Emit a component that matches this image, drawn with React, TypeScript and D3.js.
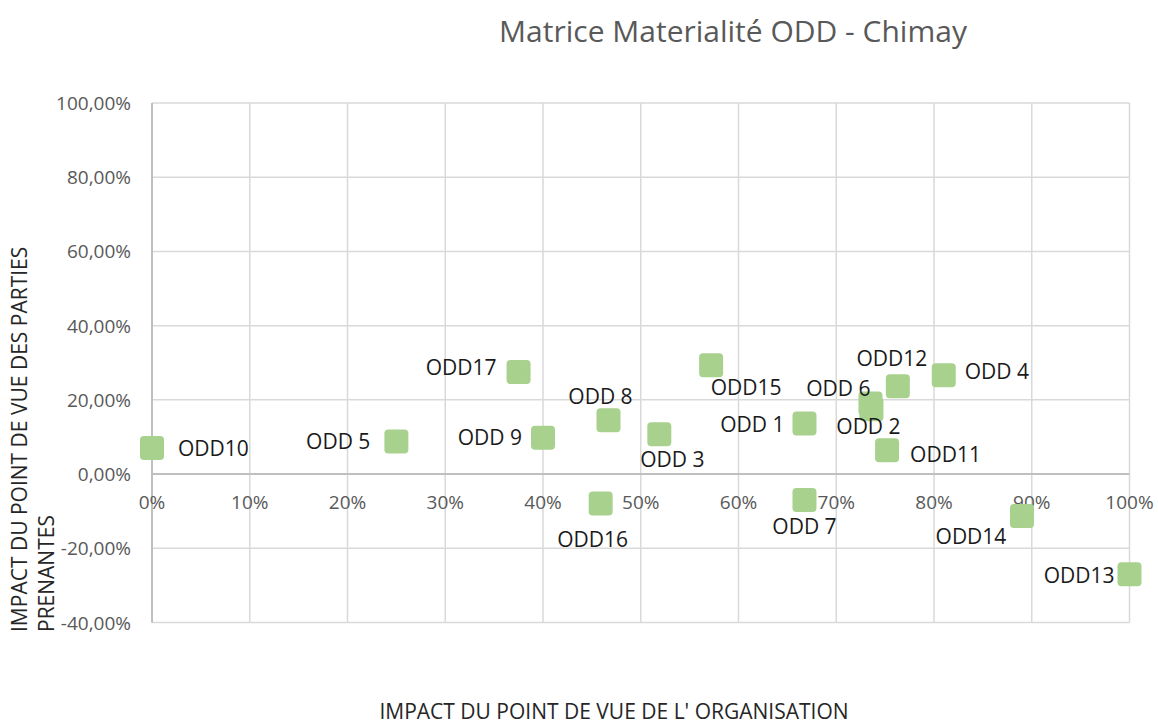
import React from "react";
import * as d3 from "d3";

// ODD names and their scores (x: organisation, y: parties prenantes), in %
const names = [
  "ODD10", "ODD 5", "ODD17", "ODD 9", "ODD 8", "ODD16", "ODD 3", "ODD15",
  "ODD 1", "ODD 7", "ODD 6", "ODD 2", "ODD12", "ODD 4", "ODD11", "ODD14", "ODD13",
];
const orgImpact = [0, 25, 37.5, 40, 46.7, 45.9, 51.9, 57.2, 66.75, 66.75, 73.5, 73.6, 76.3, 81, 75.2, 89, 100];
const stakeholderImpact = [7, 8.8, 27.5, 9.8, 14.5, -7.9, 10.7, 29.3, 13.6, -7, 19, 17.5, 23.7, 26.6, 6.4, -11.3, -27];

const xTicks = [0, 10, 20, 30, 40, 50, 60, 70, 80, 90, 100];
const yTicks = [-40, -20, 0, 20, 40, 60, 80, 100];

// label placement relative to the marker centre (hand placed in the original)
const labelLayout: Record<string, { anchor: string; dx: number; dy: number }> = {
  ODD10: { anchor: "start", dx: 26, dy: 0 },
  "ODD 5": { anchor: "end", dx: -26, dy: 0 },
  ODD17: { anchor: "end", dx: -22, dy: -5 },
  "ODD 9": { anchor: "end", dx: -21, dy: -1 },
  "ODD 8": { anchor: "middle", dx: -8, dy: -24 },
  ODD16: { anchor: "middle", dx: -8, dy: 36 },
  "ODD 3": { anchor: "middle", dx: 13, dy: 25 },
  ODD15: { anchor: "middle", dx: 35, dy: 22 },
  "ODD 1": { anchor: "end", dx: -20, dy: 0 },
  "ODD 7": { anchor: "middle", dx: 0, dy: 26 },
  "ODD 6": { anchor: "end", dx: 0, dy: -16 },
  "ODD 2": { anchor: "middle", dx: -3, dy: 17 },
  ODD12: { anchor: "middle", dx: -6, dy: -28 },
  "ODD 4": { anchor: "start", dx: 21, dy: -4 },
  ODD11: { anchor: "start", dx: 23, dy: 4 },
  ODD14: { anchor: "middle", dx: -51, dy: 20 },
  ODD13: { anchor: "end", dx: -15, dy: 1 },
};

const width = 1158;
const height = 727;
const font = "'Open Sans', 'Liberation Sans', sans-serif";

export default function App() {
  const x = d3.scaleLinear().domain([0, 100]).range([152, 1129.5]);
  const y = d3.scaleLinear().domain([-40, 100]).range([622.5, 103]);
  const size = 24;
  const pctY = (v: number) => `${v.toFixed(2).replace(".", ",")}%`;

  return (
    <svg
      width={width}
      height={height}
      style={{ position: "absolute", left: 0, top: 0, background: "#fff" }}
      fontFamily={font}
    >
      {/* grid */}
      <g stroke="#d9d9d9" strokeWidth={1.5}>
        {xTicks.map((t) => (
          <line key={`vx-${t}`} x1={x(t)} x2={x(t)} y1={y(100)} y2={y(-40)} />
        ))}
        {yTicks.map((t) => (
          <line key={`hy-${t}`} x1={x(0)} x2={x(100)} y1={y(t)} y2={y(t)} />
        ))}
      </g>
      {/* axes */}
      <g stroke="#bfbfbf" strokeWidth={2}>
        <line x1={x(0)} x2={x(0)} y1={y(100)} y2={y(-40)} />
        <line x1={x(0)} x2={x(100)} y1={y(0)} y2={y(0)} />
      </g>

      {/* tick labels */}
      <g fill="#595959" fontSize={19}>
        {xTicks.map((t) => (
          <text key={`xt-${t}`} x={x(t)} y={y(0) + 28} textAnchor="middle" dominantBaseline="central">
            {`${t}%`}
          </text>
        ))}
        {yTicks.map((t) => (
          <text key={`yt-${t}`} x={131} y={y(t)} textAnchor="end" dominantBaseline="central">
            {pctY(t)}
          </text>
        ))}
      </g>

      {/* markers */}
      <g>
        {names.map((n, i) => (
          <rect
            key={`m-${n}`}
            x={x(orgImpact[i]) - size / 2}
            y={y(stakeholderImpact[i]) - size / 2}
            width={size}
            height={size}
            rx={4}
            fill="#a9d18e"
          />
        ))}
      </g>

      {/* data labels */}
      <g fill="#1a1a1a" fontSize={21}>
        {names.map((n, i) => {
          const l = labelLayout[n];
          return (
            <text
              key={`l-${n}`}
              x={x(orgImpact[i]) + l.dx}
              y={y(stakeholderImpact[i]) + l.dy}
              textAnchor={l.anchor}
              dominantBaseline="central"
            >
              {n}
            </text>
          );
        })}
      </g>

      {/* title */}
      <text x={733} y={30} textAnchor="middle" dominantBaseline="central" fontSize={30} fill="#595959">
        Matrice Materialité ODD - Chimay
      </text>

      {/* axis titles */}
      <text x={614} y={711} textAnchor="middle" dominantBaseline="central" fontSize={21} fill="#262626">
        IMPACT DU POINT DE VUE DE L' ORGANISATION
      </text>
      <g transform="translate(0, 632) rotate(-90)" fontSize={21} fill="#262626">
        <text x={0} y={19} dominantBaseline="central">IMPACT DU POINT DE VUE DES PARTIES</text>
        <text x={0} y={46} dominantBaseline="central">PRENANTES</text>
      </g>
    </svg>
  );
}
